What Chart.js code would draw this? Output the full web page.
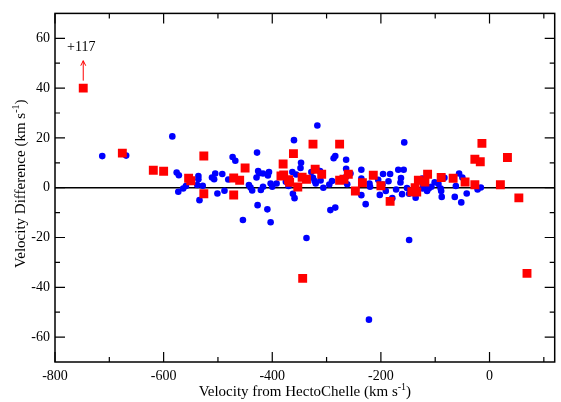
<!DOCTYPE html>
<html>
<head>
<meta charset="utf-8">
<script src="https://cdn.jsdelivr.net/npm/chart.js@4.4.0/dist/chart.umd.min.js"></script>
<style>
body { margin: 0; background: #fff; }
#wrap { width: 561px; height: 402px; }
</style>
</head>
<body>
<div id="wrap"><canvas id="myChart" width="561" height="402"></canvas></div>
<script>
// blue dots
var blueX = [-713, -669, -584, -576, -572, -573, -564, -559,
    -536, -536, -538, -528, -534, -511, -505, -507, -501, -492, -488, -481, -473, -468, -454,
    -443, -440, -437, -428, -426, -424, -417, -406, -408, -429, -421, -417, -403, -400, -427, -409, -403,
    -392, -375, -370, -363, -360, -362, -359, -356, -347, -348, -328, -325, -317, -319, -312, -322, -320, -311, -306, -337,
    -295, -290, -287, -284, -264, -264, -264, -262, -256, -236, -236, -236, -228, -221, -220, -293, -284, -222, -205, -202, -196,
    -197, -191, -186, -183, -179, -172, -168, -158, -157, -163, -164, -161, -152, -148, -148, -136, -124, -122, -123, -115, -112,
    -111, -107, -101, -94, -90, -89, -88, -83, -64, -62, -56, -50, -52, -42, -22, -16];
var blueY = [12.7, 12.9, 20.6, 6.1, 5.0, -1.6, -0.3, 0.7,
    4.7, 3.4, 1.1, 0.8, -5.0, 4.1, 5.7, 3.4, -2.3, 5.5, -1.2, 3.3, 12.3, 10.8, -13,
    1.1, 0.1, -1.1, 14.1, 6.7, 5.8, 5.7, 6.3, 4.9, 4.1, -0.9, 0.4, 1.7, 0.4, -7.0, -8.7, -13.9,
    1.7, 2.4, 0.7, 6.3, 19.1, -2.4, -4.2, 5.3, 10.0, 7.9, 6.3, 4.0, 25, 7.6, 6.7, 2.7, 1.7, 2.9, 0, -20.2,
    1.3, 2.7, 11.8, 12.7, 11.2, 7.6, 4.4, 1.4, 5.7, 7.2, 3.7, -3.0, -6.6, 1.7, 0.4, -9.0, -8.0, -53, 3.2, -2.9, 5.5,
    1.3, -1.3, 2.6, 5.5, -4.2, -0.7, 7.2, 7.2, 18.2, 3.9, 2.1, -2.6, -0.1, -2.4, -21, -4.0, 3.7, 1.3, -0.3, -1.3, -0.3,
    0.1, 0.4, 2.2, 1.5, -0.3, -1.3, -3.7, 4.0, -3.7, 0.7, 5.7, 4.1, -5.9, -2.3, -0.7, 0.1];

// red squares
var redX = [-748, -676, -619, -600, -554, -550, -526, -526, -471, -460, -450, -471, -380, -384, -379, -370, -368,
    -361, -353, -345, -337, -344, -325, -321, -309, -276, -276, -268, -260, -247, -234, -214, -200, -183,
    -143, -137, -134, -131, -119, -114, -89, -67, -45, -27, -27, -17, -14, 20, 33, 54, 69];
var redY = [40, 13.9, 7.0, 6.6, 3.8, 2.8, 12.7, -2.4, 3.9, 3.0, 7.9, -2.9, 9.5, 4.7, 5.1, 3.2, 2.2,
    13.7, 0.3, 4.2, 3.4, -36.4, 17.5, 7.4, 5.4, 17.5, 3.0, 3.4, 5.4, -1.3, 2.0, 5.0, 0.8, -5.5,
    -1.6, 0, -1.7, 3.0, 2.3, 5.4, 4.1, 3.8, 2.3, 1.2, 11.4, 10.4, 17.8, 1.2, 12.1, -4.1, -34.4];

// off-scale point: drawn at 40 with an arrow, real value +117
var arrowX = -748;
var arrowFrom = 43, arrowTo = 51, arrowLabelY = 56.5;
var arrowLabel = '+117';

var xMajor = [-800, -600, -400, -200, 0];
var xMinor = [-700, -500, -300, -100, 100];
var yMajor = [-60, -40, -20, 0, 20, 40, 60];
var yMinor = [-50, -30, -10, 10, 30, 50];

var SERIF = "'Liberation Serif', 'DejaVu Serif', serif";
Chart.defaults.font.family = SERIF;
Chart.defaults.font.size = 14;
Chart.defaults.color = '#000';

function pts(xs, ys) {
    return xs.map(function (x, i) { return { x: x, y: ys[i] }; });
}

// text with a "-1" superscript before the closing bracket
function unitText(ctx, main, x, y, align) {
    var big = '15px ' + SERIF, small = '10px ' + SERIF;
    ctx.font = big;
    var w1 = ctx.measureText(main).width, w3 = ctx.measureText(')').width;
    ctx.font = small;
    var w2 = ctx.measureText('-1').width;
    var start = x - (w1 + w2 + w3) / 2;
    ctx.textAlign = 'left';
    ctx.textBaseline = 'alphabetic';
    ctx.font = big;
    ctx.fillText(main, start, y);
    ctx.font = small;
    ctx.fillText('-1', start + w1, y - 6);
    ctx.font = big;
    ctx.fillText(')', start + w1 + w2, y);
}

var frame = {
    id: 'frame',
    beforeDatasetsDraw: function (chart) {
        var ctx = chart.ctx, a = chart.chartArea, sy = chart.scales.y;
        var y0 = sy.getPixelForValue(0);
        ctx.save();
        ctx.strokeStyle = '#000';
        ctx.lineWidth = 1.5;
        ctx.beginPath();
        ctx.moveTo(a.left, y0);
        ctx.lineTo(a.right, y0);
        ctx.stroke();
        ctx.restore();
    },
    afterDatasetsDraw: function (chart) {
        var ctx = chart.ctx, a = chart.chartArea, sx = chart.scales.x, sy = chart.scales.y;
        ctx.save();
        ctx.strokeStyle = '#000';
        ctx.lineWidth = 1.5;
        ctx.strokeRect(a.left, a.top, a.right - a.left, a.bottom - a.top);

        ctx.lineWidth = 1.2;
        ctx.beginPath();
        function xt(v, len) {
            var p = sx.getPixelForValue(v);
            ctx.moveTo(p, a.bottom); ctx.lineTo(p, a.bottom - len);
            ctx.moveTo(p, a.top); ctx.lineTo(p, a.top + len);
        }
        function yt(v, len) {
            var p = sy.getPixelForValue(v);
            ctx.moveTo(a.left, p); ctx.lineTo(a.left + len, p);
            ctx.moveTo(a.right, p); ctx.lineTo(a.right - len, p);
        }
        xMajor.forEach(function (v) { xt(v, 10); });
        xMinor.forEach(function (v) { xt(v, 5); });
        yMajor.forEach(function (v) { yt(v, 10); });
        yMinor.forEach(function (v) { yt(v, 5); });
        ctx.stroke();

        // arrow for the off-scale point
        var ax = sx.getPixelForValue(arrowX);
        var ay1 = sy.getPixelForValue(arrowFrom), ay2 = sy.getPixelForValue(arrowTo);
        ctx.strokeStyle = '#ff0000';
        ctx.lineWidth = 1;
        ctx.beginPath();
        ctx.moveTo(ax, ay1); ctx.lineTo(ax, ay2);
        ctx.moveTo(ax - 2.5, ay2 + 5); ctx.lineTo(ax, ay2); ctx.lineTo(ax + 2.5, ay2 + 5);
        ctx.stroke();
        ctx.fillStyle = '#000';
        ctx.font = '14px ' + SERIF;
        ctx.textAlign = 'center';
        ctx.textBaseline = 'middle';
        ctx.fillText(arrowLabel, ax - 2, sy.getPixelForValue(arrowLabelY));

        // axis titles
        unitText(ctx, 'Velocity from HectoChelle (km s', (a.left + a.right) / 2, 396);
        ctx.translate(25, (a.top + a.bottom) / 2 - 4);
        ctx.rotate(-Math.PI / 2);
        unitText(ctx, 'Velocity Difference (km s', 0, 0);
        ctx.restore();
    }
};

var ctx = document.getElementById('myChart').getContext('2d');
var chart = new Chart(ctx, {
    type: 'scatter',
    data: {
        datasets: [{
            label: 'red',
            data: pts(redX, redY),
            pointStyle: 'rect',
            pointRadius: 6.3,
            backgroundColor: '#ff0000',
            borderWidth: 0
        }, {
            label: 'blue',
            data: pts(blueX, blueY),
            pointStyle: 'circle',
            pointRadius: 3.3,
            backgroundColor: '#0000ff',
            borderWidth: 0
        }]
    },
    options: {
        responsive: false,
        animation: false,
        events: [],
        layout: { padding: { top: 10, right: 2, left: 0, bottom: 0 } },
        plugins: { legend: { display: false }, tooltip: { enabled: false } },
        scales: {
            x: {
                type: 'linear', min: -800, max: 120,
                grid: { display: false, drawTicks: false },
                border: { display: false },
                ticks: { padding: 6, maxRotation: 0 },
                afterBuildTicks: function (s) { s.ticks = xMajor.map(function (v) { return { value: v }; }); },
                afterFit: function (s) { s.height = 40; }
            },
            y: {
                type: 'linear', min: -70, max: 70,
                grid: { display: false, drawTicks: false },
                border: { display: false },
                ticks: { padding: 5 },
                afterBuildTicks: function (s) { s.ticks = yMajor.map(function (v) { return { value: v }; }); },
                afterFit: function (s) { s.width = 55; }
            }
        }
    },
    plugins: [frame]
});
</script>
</body>
</html>
